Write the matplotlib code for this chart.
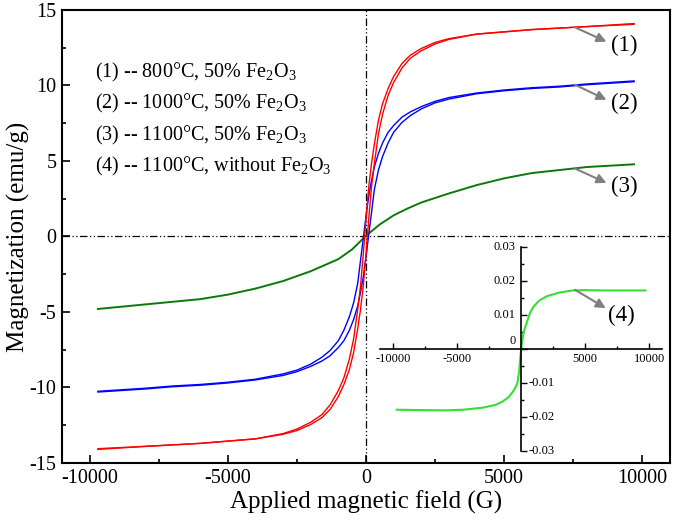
import numpy as np
import matplotlib
matplotlib.use('Agg')
import matplotlib.pyplot as plt
from matplotlib.ticker import MultipleLocator

plt.rcParams['font.family'] = 'Liberation Serif'
plt.rcParams['mathtext.fontset'] = 'custom'
plt.rcParams['mathtext.rm'] = 'Liberation Serif'
plt.rcParams['axes.unicode_minus'] = False

# field grid (G) for the loops of samples (1) and (2)
field = [-9700, -8000, -7000, -6000, -5000, -4000, -3000, -2500, -2000, -1600, -1300,
         -1000, -800, -600, -450, -300, -200, -100, 0, 100, 200, 300, 450, 600, 800,
         1000, 1300, 1600, 2000, 2500, 3000, 4000, 5000, 6000, 7000, 8000, 9700]

# sample (1): 800 C, descending and ascending branches
m1_down = [-14.05, -13.9, -13.8, -13.7, -13.55, -13.4, -13.05, -12.75, -12.3, -11.8, -11.15,
           -10.2, -9.35, -8.1, -6.8, -4.8, -3.3, -1.2, 1.2, 3.3, 4.85, 6.1, 7.7, 8.8, 9.8,
           10.6, 11.45, 12.0, 12.45, 12.85, 13.1, 13.4, 13.55, 13.7, 13.8, 13.9, 14.1]
m1_up = [-14.1, -13.9, -13.8, -13.7, -13.55, -13.4, -13.1, -12.85, -12.45, -12.0, -11.45,
         -10.6, -9.8, -8.8, -7.7, -6.1, -4.85, -3.3, -1.2, 1.2, 3.3, 4.8, 6.8, 8.1, 9.35,
         10.2, 11.15, 11.8, 12.3, 12.75, 13.05, 13.4, 13.55, 13.7, 13.8, 13.9, 14.05]

# sample (2): 1000 C
m2_down = [-10.25, -10.05, -9.9, -9.8, -9.65, -9.45, -9.1, -8.85, -8.45, -8.0, -7.55,
           -6.9, -6.2, -5.3, -4.4, -3.1, -1.6, -0.15, 1.35, 2.7, 3.7, 4.6, 5.5, 6.2, 6.9,
           7.35, 7.9, 8.25, 8.6, 8.95, 9.2, 9.5, 9.7, 9.85, 9.95, 10.1, 10.3]
m2_up = [-10.3, -10.1, -9.95, -9.85, -9.7, -9.5, -9.2, -8.95, -8.6, -8.25, -7.9,
         -7.35, -6.9, -6.2, -5.5, -4.6, -3.7, -2.7, -1.35, 0.15, 1.6, 3.1, 4.4, 5.3, 6.2,
         6.9, 7.55, 8.0, 8.45, 8.85, 9.1, 9.45, 9.65, 9.8, 9.9, 10.05, 10.25]

# sample (3): 1100 C
field3 = [-9700, -8000, -6000, -5000, -4000, -3000, -2000, -1500, -1000, -500, 0,
          500, 1000, 1500, 2000, 3000, 4000, 5000, 6000, 8000, 9700]
m3 = [-4.8, -4.5, -4.15, -3.85, -3.45, -2.95, -2.3, -1.9, -1.5, -0.85, 0.05,
      0.8, 1.4, 1.85, 2.25, 2.85, 3.4, 3.85, 4.2, 4.6, 4.78]

# sample (4): 1100 C without Fe2O3 (inset)
field4 = [-9700, -8000, -6000, -4500, -3000, -2000, -1500, -1000, -700, -500, -300, -150,
          -50, 0, 80, 200, 470, 700, 940, 1400, 2000, 3000, 4000, 5000, 6500, 8000, 9700]
m4 = [-0.0178, -0.0179, -0.018, -0.0178, -0.0172, -0.0164, -0.0155, -0.0142, -0.0128,
      -0.0117, -0.0101, -0.0065, -0.002, 0.0, 0.0023, 0.005, 0.0082, 0.0107, 0.0124,
      0.0143, 0.0156, 0.0167, 0.0173, 0.0174, 0.0173, 0.0173, 0.0173]

legend_lines = [r'(1) -- 800°C, 50% Fe$_2$O$_3$',
                r'(2) -- 1000°C, 50% Fe$_2$O$_3$',
                r'(3) -- 1100°C, 50% Fe$_2$O$_3$',
                r'(4) -- 1100°C, without Fe$_2$O$_3$']

inset_yticks = [-0.03, -0.02, -0.01, 0, 0.01, 0.02, 0.03]

fig = plt.figure(figsize=(6.75, 5.24), dpi=100)
ax = fig.add_axes([0.0919, 0.1164, 0.9007, 0.8646])

dash = (0, (6, 2, 1, 2, 1, 2))
ax.axhline(0, color='black', lw=0.9, linestyle=dash)
ax.axvline(0, color='black', lw=0.9, linestyle=dash)

ax.plot(field3, m3, color='#0a7a0a', lw=1.4)
ax.plot(field, m2_down, color='#0000ff', lw=1.0)
ax.plot(field, m2_up, color='#0000ff', lw=1.0)
ax.plot(field, m1_down, color='#ff0000', lw=1.0)
ax.plot(field, m1_up, color='#ff0000', lw=1.0)

ax.set_xlim(-11000, 11000)
ax.set_ylim(-15, 15)
ax.xaxis.set_major_locator(MultipleLocator(5000))
ax.xaxis.set_minor_locator(MultipleLocator(2500))
ax.yaxis.set_major_locator(MultipleLocator(5))
ax.yaxis.set_minor_locator(MultipleLocator(2.5))
ax.tick_params(which='both', direction='in', top=False, right=False, width=1.2)
ax.tick_params(which='major', length=6, labelsize=14.5, pad=4)
ax.tick_params(which='minor', length=3)
for s in ax.spines.values():
    s.set_linewidth(1.5)
ax.set_xlabel('Applied magnetic field (G)', fontsize=18, labelpad=2)
ax.set_ylabel('Magnetization (emu/g)', fontsize=18, labelpad=0)

for i, t in enumerate(legend_lines):
    ax.text(0.055, 0.862 - i * 0.069, t, transform=ax.transAxes, fontsize=14.5, va='center')

arrow = dict(arrowstyle='-|>', color='#808080', lw=1.5, mutation_scale=14, shrinkA=0, shrinkB=0)
for lab, xy, xyt in [('(1)', (7560, 13.85), (8700, 12.9)),
                     ('(2)', (7560, 10.05), (8700, 9.05)),
                     ('(3)', (7560, 4.5), (8700, 3.55))]:
    ax.annotate('', xy=xyt, xytext=xy, arrowprops=arrow)
    ax.text(8850, xyt[1] - 0.25, lab, fontsize=16.5, va='center', ha='left')

# inset
ins = fig.add_axes([0.563, 0.139, 0.418, 0.389])
ins.patch.set_alpha(0)
ins.plot(field4, m4, color='#33e033', lw=1.5)
ins.set_xlim(-11000, 11000)
ins.set_ylim(-0.03, 0.03)
ins.spines['left'].set_position(('data', 0))
ins.spines['bottom'].set_position(('data', 0))
ins.spines['top'].set_visible(False)
ins.spines['right'].set_visible(False)
for s in ins.spines.values():
    s.set_linewidth(1.2)
ins.set_xticks([-10000, -5000, 5000, 10000])
ins.xaxis.set_minor_locator(MultipleLocator(2500))
ins.set_yticks(inset_yticks)
ins.yaxis.set_minor_locator(MultipleLocator(0.005))
ins.set_yticklabels([])
ins.tick_params(which='both', direction='in', width=1.0)
ins.tick_params(which='major', length=4, labelsize=9, pad=3)
ins.tick_params(which='minor', length=2.5)
for v in inset_yticks:
    if v > 0:
        ins.annotate(f'{v:.2f}', (0, v), xytext=(-4, 0), textcoords='offset points',
                     ha='right', va='center', fontsize=9)
    elif v < 0:
        ins.annotate(f'{v:.2f}', (0, v), xytext=(5, 0), textcoords='offset points',
                     ha='left', va='center', fontsize=9)
    else:
        ins.annotate('0', (0, v), xytext=(-4, 6), textcoords='offset points',
                     ha='right', va='center', fontsize=9)
ins.annotate('', xy=(6600, 0.0121), xytext=(4200, 0.0175), arrowprops=arrow)
ins.text(6800, 0.0100, '(4)', fontsize=16.5, va='center', ha='left')

fig.savefig('out.png', dpi=100)
